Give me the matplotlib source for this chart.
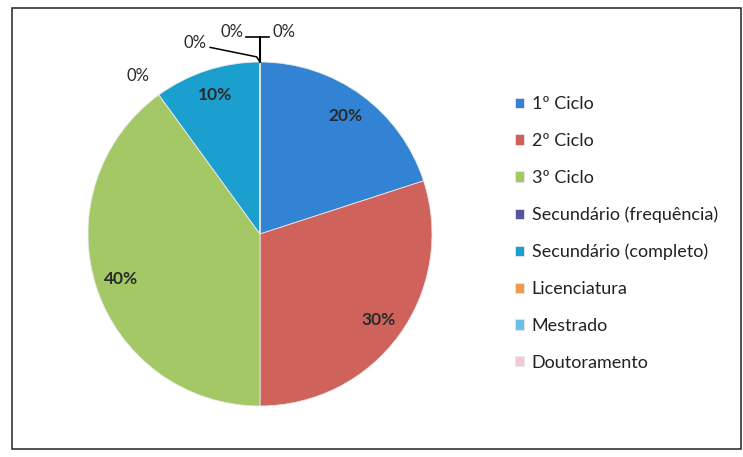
import matplotlib
matplotlib.use("Agg")
import matplotlib.pyplot as plt
from matplotlib.patches import Rectangle

plt.rcParams['font.family'] = ['Lato', 'DejaVu Sans']

categories = ['1º Ciclo', '2º Ciclo', '3º Ciclo', 'Secundário (frequência)',
              'Secundário (completo)', 'Licenciatura', 'Mestrado', 'Doutoramento']
values = [20, 30, 40, 0, 10, 0, 0, 0]
colors = ['#3283d4', '#cf625b', '#a3c865', '#55559f',
          '#1b9fcf', '#ef9a4c', '#6cbfe6', '#f3c9d4']

W, H = 743, 457
fig = plt.figure(figsize=(W / 100, H / 100), dpi=100)

# outer chart frame
fig.patches.append(Rectangle((12 / W, 8 / H), 729 / W, 441 / H, transform=fig.transFigure,
                             fill=False, edgecolor='#222222', lw=1.1))

ax = fig.add_axes([88 / W, (H - 406) / H, 344 / W, 344 / H])
wedges, texts, autotexts = ax.pie(values, colors=colors, startangle=90, counterclock=False,
                                  radius=1, autopct='%1.0f%%', pctdistance=0.85,
                                  wedgeprops=dict(linewidth=0.6, edgecolor='#e8e8e8'),
                                  textprops=dict(fontsize=12.5, color='#2a2a2a', fontweight='bold'))
ax.set_xlim(-1, 1)
ax.set_ylim(-1, 1)
ax.set_aspect('equal')
ax.axis('off')

# zero-value labels placed outside as in the original chart
zero_pos = {3: (-0.71, 0.92), 5: (-0.38, 1.11), 6: (-0.16, 1.175), 7: (0.14, 1.175)}
for i, t in enumerate(autotexts):
    if values[i] == 0:
        t.set_position(zero_pos[i])
        t.set_fontweight('normal')
        t.set_fontsize(12)
        t.set_clip_on(False)
# leader lines for the labels at the top
ax.plot([-0.29, -0.02, 0.0], [1.085, 1.03, 1.0], color='black', lw=1.1, clip_on=False)
ax.plot([-0.08, 0.05], [1.145, 1.145], color='black', lw=1.2, clip_on=False)
ax.plot([0.0, 0.0], [1.145, 1.0], color='black', lw=1.5, clip_on=False)

fig.legend(wedges, categories, loc='upper left', bbox_to_anchor=(499 / W, 1 - 80 / H),
           frameon=False, fontsize=13, handlelength=0.5, handleheight=0.5,
           handletextpad=0.4, labelspacing=1.15, labelcolor='#222222')

fig.savefig('out.png', dpi=100)
